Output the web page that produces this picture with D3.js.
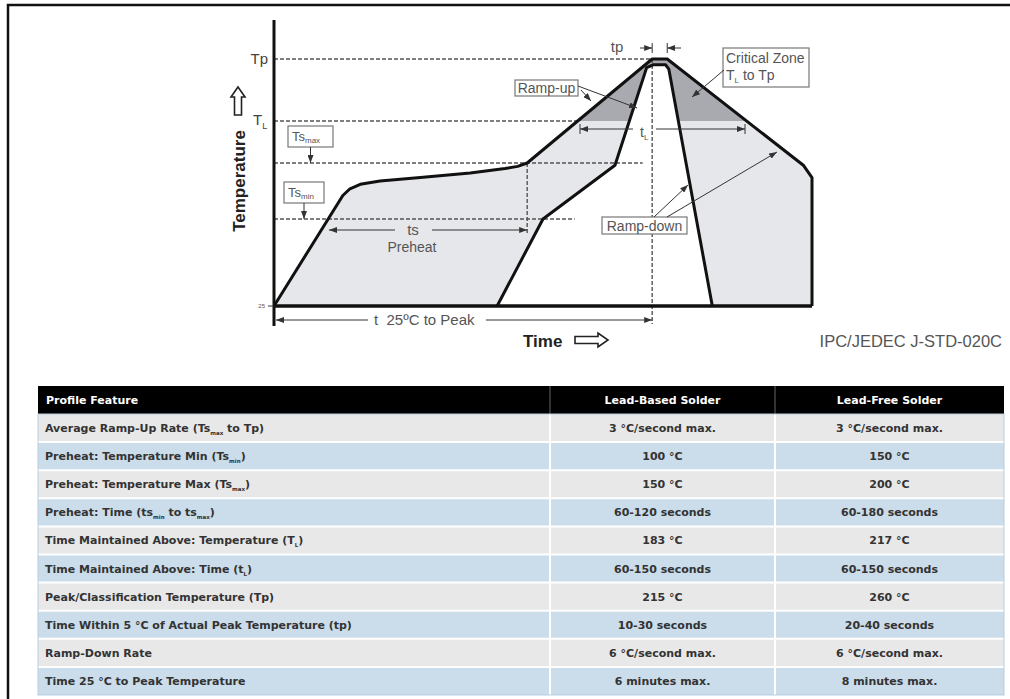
<!DOCTYPE html>
<html>
<head>
<meta charset="utf-8">
<script src="https://cdn.jsdelivr.net/npm/d3@7"></script>
<style>
  body { margin: 0; background: #fff; }
  svg { display: block; }
  .lbl { font-family: "Liberation Sans", Arial, sans-serif; fill: #555; }
  .tbl { font-family: "DejaVu Sans", Verdana, sans-serif; }
</style>
</head>
<body>
<svg id="chart" width="1010" height="699"></svg>
<script>
// profile: time in seconds, temperature in °C (schematic)
const outerTime = [0, 87, 96, 109, 134, 185, 248, 292, 308, 320, 478, 497, 669, 680, 680];
const outerTemp = [25, 171, 177, 181, 184, 187, 191, 195, 197, 200, 260, 260, 198, 187, 25];
const innerTime = [282, 340, 431, 471, 479, 495, 499, 554];
const innerTemp = [25, 150, 198, 254, 256, 256, 253, 25];

// reference temperature levels and how far their dashed guide runs (s)
const levelNames = ["Tp", "TL", "Tsmax", "Tsmin"];
const levelTemps = [260, 217, 200, 150];
const levelEnds = [478, 387, 466, 380];

// table
const features = [
    "Average Ramp-Up Rate (Ts{max} to Tp)",
    "Preheat: Temperature Min (Ts{min})",
    "Preheat: Temperature Max (Ts{max})",
    "Preheat: Time (ts{min} to ts{max})",
    "Time Maintained Above: Temperature (T{L})",
    "Time Maintained Above: Time (t{L})",
    "Peak/Classification Temperature (Tp)",
    "Time Within 5 °C of Actual Peak Temperature (tp)",
    "Ramp-Down Rate",
    "Time 25 °C to Peak Temperature"
];
const leadBased = ["3 °C/second max.", "100 °C", "150 °C", "60-120 seconds", "183 °C",
    "60-150 seconds", "215 °C", "10-30 seconds", "6 °C/second max.", "6 minutes max."];
const leadFree = ["3 °C/second max.", "150 °C", "200 °C", "60-180 seconds", "217 °C",
    "60-150 seconds", "260 °C", "20-40 seconds", "6 °C/second max.", "8 minutes max."];
const headers = ["Profile Feature", "Lead-Based Solder", "Lead-Free Solder"];

const svg = d3.select("#chart");

const x = d3.scaleLinear().domain([0, 680]).range([274, 812]);
const y = d3.scaleLinear().domain([25, 150, 200, 217, 260]).range([306, 219, 163, 121, 59]);

const outer = outerTime.map((t, i) => [t, outerTemp[i]]);
const inner = innerTime.map((t, i) => [t, innerTemp[i]]);
const line = d3.line().x(d => x(d[0])).y(d => y(d[1]));

// frame
svg.append("path").attr("d", "M8,699 V5 H1010").attr("fill", "none")
    .attr("stroke", "#111").attr("stroke-width", 2.5);

const defs = svg.append("defs");
defs.append("marker").attr("id", "arr").attr("viewBox", "0 0 8 6")
    .attr("refX", 8).attr("refY", 3).attr("markerWidth", 8).attr("markerHeight", 6)
    .attr("markerUnits", "userSpaceOnUse").attr("orient", "auto")
    .append("path").attr("d", "M0,0 L8,3 L0,6 Z").attr("fill", "#333");
defs.append("clipPath").attr("id", "crit").append("rect")
    .attr("x", 0).attr("y", 0).attr("width", 1010).attr("height", y(217));

// shaded areas
const area = line(outer) + "Z" + line(inner) + "Z";
svg.append("path").attr("d", area).attr("fill", "#e6e7eb").attr("fill-rule", "evenodd");
svg.append("path").attr("d", area).attr("fill", "#a9aab0").attr("fill-rule", "evenodd")
    .attr("clip-path", "url(#crit)");

// dashed guides
const dash = svg.append("g").attr("stroke", "#555").attr("stroke-width", 1.4)
    .attr("stroke-dasharray", "4,2").attr("fill", "none");
levelTemps.forEach((t, i) => {
    dash.append("line").attr("x1", x(0)).attr("x2", x(levelEnds[i]))
        .attr("y1", y(t)).attr("y2", y(t));
});
dash.append("line").attr("x1", x(320)).attr("x2", x(320)).attr("y1", y(200)).attr("y2", 234);
dash.append("line").attr("x1", x(478)).attr("x2", x(478)).attr("y1", y(260)).attr("y2", 324);

// profiles
svg.append("path").attr("d", line(outer)).attr("fill", "none").attr("stroke", "#111")
    .attr("stroke-width", 3).attr("stroke-linejoin", "round");
svg.append("path").attr("d", line(inner)).attr("fill", "none").attr("stroke", "#111")
    .attr("stroke-width", 3).attr("stroke-linejoin", "round");

// axes
svg.append("line").attr("x1", x(0)).attr("x2", x(0)).attr("y1", 20).attr("y2", 326)
    .attr("stroke", "#111").attr("stroke-width", 3);
svg.append("line").attr("x1", x(0)).attr("x2", x(680)).attr("y1", y(25)).attr("y2", y(25))
    .attr("stroke", "#111").attr("stroke-width", 3.5);
svg.append("line").attr("x1", 268).attr("x2", 274).attr("y1", y(25)).attr("y2", y(25))
    .attr("stroke", "#333").attr("stroke-width", 1);

// y labels
svg.append("text").attr("class", "lbl").attr("x", 268).attr("y", y(260) + 5)
    .attr("text-anchor", "end").style("font-size", "15px").style("fill", "#444").text("Tp");
const tl = svg.append("text").attr("class", "lbl").attr("x", 253).attr("y", y(217) + 4)
    .style("font-size", "15px").style("fill", "#444");
tl.append("tspan").text("T");
tl.append("tspan").attr("dy", 4).style("font-size", "9px").text("L");
svg.append("text").attr("class", "lbl").attr("x", 265).attr("y", y(25) + 2)
    .attr("text-anchor", "end").style("font-size", "6px").text("25");

svg.append("text").attr("transform", "translate(245,181) rotate(-90)")
    .attr("text-anchor", "middle").style("font-family", "Liberation Sans, Arial, sans-serif")
    .style("font-weight", "bold").style("font-size", "17px").attr("fill", "#222").text("Temperature");
svg.append("path").attr("d", "M238,87 L245,97 L241.5,97 L241.5,115 L234.5,115 L234.5,97 L231,97 Z")
    .attr("fill", "#fff").attr("stroke", "#222").attr("stroke-width", 1.6);

svg.append("text").attr("x", 523).attr("y", 347)
    .style("font-family", "Liberation Sans, Arial, sans-serif").style("font-weight", "bold")
    .style("font-size", "17px").attr("fill", "#222").text("Time");
svg.append("path").attr("d", "M575,336.5 L598,336.5 L598,333 L608,340 L598,347 L598,343.5 L575,343.5 Z")
    .attr("fill", "#fff").attr("stroke", "#222").attr("stroke-width", 1.6);

svg.append("text").attr("class", "lbl").attr("x", 1002).attr("y", 347)
    .attr("text-anchor", "end").style("font-size", "16.5px").text("IPC/JEDEC J-STD-020C");

// annotation helpers
const ann = svg.append("g");
function arrow(x1, y1, x2, y2) {
    ann.append("line").attr("x1", x1).attr("y1", y1).attr("x2", x2).attr("y2", y2)
        .attr("stroke", "#333").attr("stroke-width", 1).attr("marker-end", "url(#arr)");
}
function seg(x1, y1, x2, y2) {
    ann.append("line").attr("x1", x1).attr("y1", y1).attr("x2", x2).attr("y2", y2)
        .attr("stroke", "#333").attr("stroke-width", 1);
}
function box(x0, y0, w, h) {
    ann.append("rect").attr("x", x0).attr("y", y0).attr("width", w).attr("height", h)
        .attr("fill", "#fff").attr("stroke", "#777").attr("stroke-width", 1.2);
}

// Ts max / Ts min boxes
[[288, 126, 45, y(200)], [284, 182, 40, y(150)]].forEach((b, i) => {
    box(b[0], b[1], b[2], 21);
    const t = ann.append("text").attr("class", "lbl").attr("x", b[0] + 4).attr("y", b[1] + 15)
        .style("font-size", "13px");
    t.append("tspan").text("Ts");
    t.append("tspan").attr("dy", 2).style("font-size", "8px").text(i === 0 ? "max" : "min");
    arrow(b[0] + b[2] / 2, b[1] + 21, b[0] + b[2] / 2, b[3]);
});

// ts preheat
const tsY = 230;
arrow(395, tsY, 329, tsY);
arrow(432, tsY, x(320), tsY);
ann.append("text").attr("class", "lbl").attr("x", 413).attr("y", tsY + 5)
    .attr("text-anchor", "middle").style("font-size", "15px").text("ts");
ann.append("text").attr("class", "lbl").attr("x", 412).attr("y", 252)
    .attr("text-anchor", "middle").style("font-size", "14px").text("Preheat");

// t 25°C to peak
const tY = 320;
arrow(368, tY, x(0) + 2, tY);
arrow(486, tY, x(478), tY);
ann.append("text").attr("class", "lbl").attr("x", 374).attr("y", tY + 5)
    .style("font-size", "15px").attr("xml:space", "preserve").text("t  25ºC to Peak");

// tL
const tlY = 129;
arrow(633, tlY, 580, tlY);
arrow(656, tlY, 745, tlY);
seg(580, tlY - 5, 580, tlY + 5);
seg(745, tlY - 5, 745, tlY + 5);
const tlt = ann.append("text").attr("class", "lbl").attr("x", 640).attr("y", tlY + 8)
    .style("font-size", "14px");
tlt.append("tspan").text("t");
tlt.append("tspan").attr("dy", 3).style("font-size", "8px").text("L");

// tp
const tpY = 48;
arrow(640, tpY, x(478), tpY);
arrow(681, tpY, x(497), tpY);
seg(x(478), tpY - 5, x(478), tpY + 5);
seg(x(497), tpY - 5, x(497), tpY + 5);
ann.append("text").attr("class", "lbl").attr("x", 617).attr("y", tpY + 4)
    .attr("text-anchor", "middle").style("font-size", "15px").text("tp");

// Ramp-up
box(515, 80, 63, 16);
ann.append("text").attr("class", "lbl").attr("x", 546.5).attr("y", 93)
    .attr("text-anchor", "middle").style("font-size", "14px").text("Ramp-up");
arrow(578, 86, 637, 108);
arrow(581, 90, 591, 101);

// Critical zone
box(723, 48, 86, 39);
ann.append("text").attr("class", "lbl").attr("x", 726).attr("y", 63)
    .style("font-size", "14px").text("Critical Zone");
const cz = ann.append("text").attr("class", "lbl").attr("x", 726).attr("y", 80)
    .style("font-size", "14px");
cz.append("tspan").text("T");
cz.append("tspan").attr("dy", 3).style("font-size", "8px").text("L");
cz.append("tspan").attr("dy", -3).text(" to Tp");
arrow(724, 70, 692, 97);

// Ramp-down
box(602, 217, 85, 17);
ann.append("text").attr("class", "lbl").attr("x", 644.5).attr("y", 231)
    .attr("text-anchor", "middle").style("font-size", "14px").text("Ramp-down");
arrow(654, 217, 688, 185);
arrow(667, 217, 777, 152);

// ---------- table ----------
const tbl = svg.append("g").attr("class", "tbl");
const colEdges = [38, 550, 775, 1004];
const rows = d3.scaleBand().domain(d3.range(features.length)).range([414, 695]);

tbl.append("rect").attr("x", colEdges[0]).attr("y", 386).attr("width", colEdges[3] - colEdges[0])
    .attr("height", 28).attr("fill", "#000");
[1, 2].forEach(i => tbl.append("line").attr("x1", colEdges[i]).attr("x2", colEdges[i])
    .attr("y1", 386).attr("y2", 414).attr("stroke", "#666").attr("stroke-width", 1));
headers.forEach((h, i) => {
    tbl.append("text").attr("x", i === 0 ? 46 : (colEdges[i] + colEdges[i + 1]) / 2)
        .attr("y", 404).attr("text-anchor", i === 0 ? "start" : "middle")
        .style("font-size", "11px").style("font-weight", "bold").attr("fill", "#fff").text(h);
});

features.forEach((f, r) => {
    const y0 = rows(r), h = rows.bandwidth();
    tbl.append("rect").attr("x", colEdges[0]).attr("y", y0).attr("width", colEdges[3] - colEdges[0])
        .attr("height", h).attr("fill", r % 2 === 0 ? "#e8e8e9" : "#cbdcea");
    if (r > 0) tbl.append("line").attr("x1", colEdges[0]).attr("x2", colEdges[3])
        .attr("y1", y0).attr("y2", y0).attr("stroke", "#fff").attr("stroke-width", 2);
    const ty = y0 + h / 2 + 4;
    const t = tbl.append("text").attr("x", 45).attr("y", ty).style("font-size", "11px")
        .style("font-weight", "bold").attr("fill", "#333");
    f.split(/\{([^}]*)\}/).forEach((part, k) => {
        if (part === "") return;
        if (k % 2 === 1) t.append("tspan").attr("dy", 3).style("font-size", "5.5px").text(part);
        else t.append("tspan").attr("dy", k > 0 ? -3 : 0).text(part);
    });
    [leadBased[r], leadFree[r]].forEach((v, c) => {
        tbl.append("text").attr("x", (colEdges[c + 1] + colEdges[c + 2]) / 2).attr("y", ty)
            .attr("text-anchor", "middle").style("font-size", "11px").style("font-weight", "bold")
            .attr("fill", "#333").text(v);
    });
});
[1, 2].forEach(i => tbl.append("line").attr("x1", colEdges[i]).attr("x2", colEdges[i])
    .attr("y1", 414).attr("y2", 695).attr("stroke", "#fff").attr("stroke-width", 2));
tbl.append("rect").attr("x", colEdges[0]).attr("y", 414).attr("width", colEdges[3] - colEdges[0])
    .attr("height", 281).attr("fill", "none").attr("stroke", "#b7cde0").attr("stroke-width", 1);
</script>
</body>
</html>
